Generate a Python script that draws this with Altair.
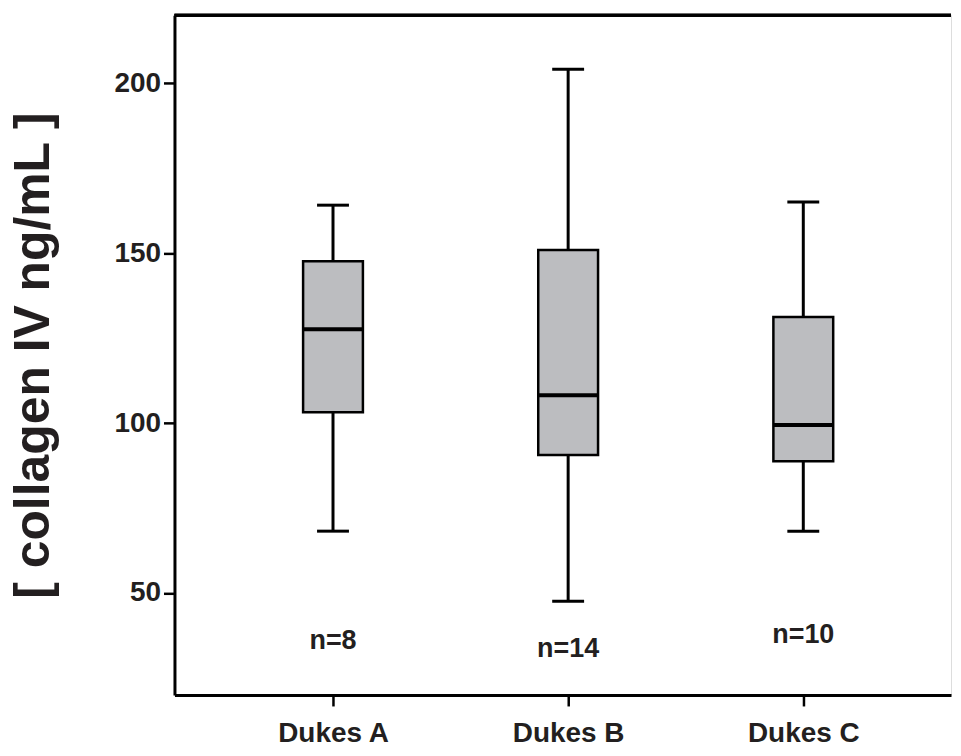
import altair as alt
import pandas as pd

categories = ["Dukes A", "Dukes B", "Dukes C"]
positions = [1, 2, 3]
whisker_low = [68.2, 47.6, 68.2]
q1 = [103.2, 90.6, 88.8]
median = [127.6, 108.2, 99.4]
q3 = [147.6, 150.9, 131.2]
whisker_high = [164.1, 204.1, 165.0]
n_labels = ["n=8", "n=14", "n=10"]
n_label_y = [35.9, 33.5, 37.6]
y_ticks = [50, 100, 150, 200]

df = pd.DataFrame({
    "pos": positions, "cat": categories, "lo": whisker_low, "q1": q1,
    "med": median, "q3": q3, "hi": whisker_high,
    "n": n_labels, "ny": n_label_y,
})

FONT = "Liberation Sans"
TXT = "#231f20"

xscale = alt.Scale(domain=[0.347, 3.607], nice=False, zero=False)
yscale = alt.Scale(domain=[20, 220], nice=False, zero=False)

label_expr = "[" + ",".join(f"'{c}'" for c in categories) + "][datum.value - 1]"

base = alt.Chart(df)

x_enc = alt.X("pos:Q", scale=xscale, axis=alt.Axis(
    values=positions, labelExpr=label_expr, title=None, grid=False,
    domainColor="black", domainWidth=3, tickColor="black", tickWidth=2.5,
    tickSize=11, labelFont=FONT, labelFontSize=28, labelFontWeight="bold",
    labelColor=TXT, labelPadding=14, labelFlush=False))
y_axis = alt.Axis(
    values=y_ticks, title="[ collagen IV ng/mL ]", grid=False,
    domainColor="black", domainWidth=3, tickColor="black", tickWidth=2.5,
    tickSize=11, labelFont=FONT, labelFontSize=28, labelFontWeight="bold",
    labelColor=TXT, labelPadding=3, titleFont=FONT, titleFontSize=50,
    titleFontWeight="bold", titleColor=TXT, titlePadding=56)

whisk_top = base.mark_rule(color="black", strokeWidth=3).encode(
    x=x_enc, y=alt.Y("q3:Q", scale=yscale, axis=y_axis), y2="hi:Q")
whisk_bot = base.mark_rule(color="black", strokeWidth=3).encode(
    x="pos:Q", y="lo:Q", y2="q1:Q")
cap_hi = base.mark_rule(color="black", strokeWidth=3, xOffset=-16, x2Offset=16).encode(
    x="pos:Q", x2="pos:Q", y="hi:Q")
cap_lo = base.mark_rule(color="black", strokeWidth=3, xOffset=-16, x2Offset=16).encode(
    x="pos:Q", x2="pos:Q", y="lo:Q")
box = base.mark_bar(size=60, color="#bcbdc0", stroke="black", strokeWidth=2.5).encode(
    x="pos:Q", y="q1:Q", y2="q3:Q")
med = base.mark_rule(color="black", strokeWidth=4, xOffset=-30, x2Offset=30).encode(
    x="pos:Q", x2="pos:Q", y="med:Q")
ntext = base.mark_text(font=FONT, fontSize=27, fontWeight="bold", color=TXT,
                       baseline="middle", align="center").encode(
    x="pos:Q", y="ny:Q", text="n:N")
top_line = base.mark_rule(color="black", strokeWidth=3).encode(
    x=alt.value(0), x2=alt.value(779), y=alt.value(0))

chart = alt.layer(whisk_top, whisk_bot, cap_hi, cap_lo, box, med, ntext, top_line).properties(
    width=779, height=682,
    padding={"left": 0, "top": 4, "right": 0, "bottom": 0},
).configure_view(stroke=None).configure(background="white")

chart.save("out.html", embed_options={"renderer": "svg", "actions": False})
